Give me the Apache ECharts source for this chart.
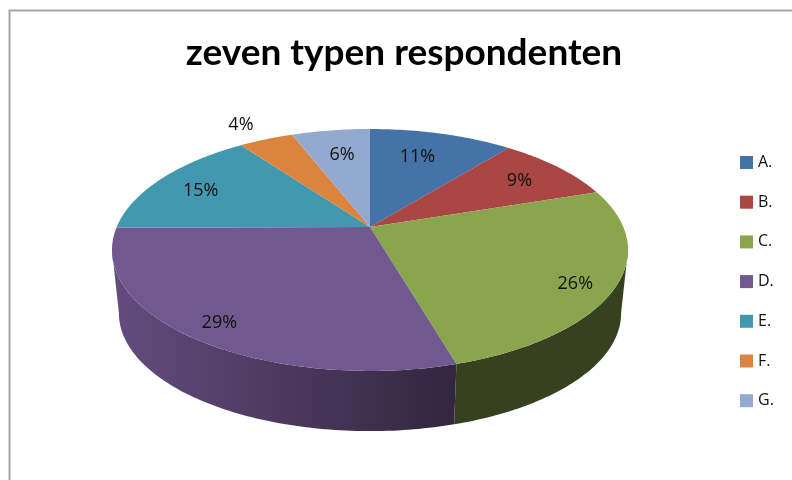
<!DOCTYPE html>
<html><head><meta charset="utf-8">
<style>html,body{margin:0;padding:0;background:#fff}#c{width:792px;height:480px}</style>
<script src="https://cdn.jsdelivr.net/npm/echarts@6/dist/echarts.min.js"></script>
</head><body><div id="c"></div>
<script>
const titleText = 'zeven typen respondenten';
const categories = ['A.', 'B.', 'C.', 'D.', 'E.', 'F.', 'G.'];
const shares = [10.8, 9.1, 25.6, 29.4, 15.1, 4.1, 5.9];
const colors = ['#4572A7', '#AA4643', '#89A54E', '#71588F', '#4198AF', '#DB843D', '#93A9CF'];
const sideStops = [
  ['#2f4f75', '#2f4f75'], ['#76302e', '#76302e'], ['#3c4722', '#37411f'], ['#634c7e', '#33263f'],
  ['#2d6a7a', '#2d6a7a'], ['#99592a', '#99592a'], ['#66768f', '#66768f']
];
const labelShift = [[-5, -2], [14, -3], [38, 16], [-32, 23], [-20, -1], [-53, -38], [1, -1]];

const total = shares.reduce((a, b) => a + b, 0);
const geom = { cx: 370, top: { y: 227, a: 253.3, b: 116.6 }, bottom: { y: 291, a: 246.5, b: 113.5 }, k: 0.19 };
const tangent = Math.acos(-geom.k) * 180 / Math.PI;
function project(face, r, deg) {
  const t = deg * Math.PI / 180, u = r * Math.sin(t), v = -r * Math.cos(t), d = 1 - geom.k * v;
  return [geom.cx + face.a * u / d, face.y + face.b * v / d];
}
function arc(face, from, to) {
  const pts = [], n = Math.max(2, Math.ceil((to - from) / 1));
  for (let i = 0; i <= n; i++) pts.push(project(face, 1, from + (to - from) * i / n));
  return pts;
}
const starts = [];
shares.reduce((s, v, i) => (starts[i] = s, s + v), 0);

function renderSlice(i) {
  return function (params, api) {
    const value = api.value(0);
    const from = starts[i] / total * 360, to = from + value / total * 360;
    const children = [];
    const sf = Math.max(from, tangent), st = Math.min(to, 360 - tangent);
    if (st > sf) {
      const pts = arc(geom.top, sf, st).concat(arc(geom.bottom, sf, st).reverse());
      children.push({
        type: 'polygon', z2: 1, shape: { points: pts },
        style: { fill: new echarts.graphic.LinearGradient(115, 0, 455, 0,
          [{ offset: 0, color: sideStops[i][0] }, { offset: 1, color: sideStops[i][1] }], true) }
      });
    }
    children.push({
      type: 'polygon', z2: 2,
      shape: { points: [project(geom.top, 0, 0)].concat(arc(geom.top, from, to)) },
      style: { fill: colors[i] }
    });
    const anchor = project(geom.top, 0.7, (from + to) / 2);
    children.push({
      type: 'text', z2: 3,
      style: {
        x: anchor[0] + labelShift[i][0], y: anchor[1] + labelShift[i][1],
        text: Math.round(value / total * 100) + '%',
        fill: '#111', font: '18px "Open Sans"', align: 'center', verticalAlign: 'middle'
      }
    });
    return { type: 'group', children };
  };
}

const chart = echarts.init(document.getElementById('c'), null, { renderer: 'canvas' });
chart.setOption({
  animation: false,
  backgroundColor: '#ffffff',
  title: {
    text: titleText, left: 399, top: 30, textAlign: 'center',
    textStyle: { fontFamily: 'Lato', fontWeight: 'bold', fontSize: 37, color: '#000' }
  },
  legend: {
    orient: 'vertical', left: 735, top: 149.5, itemWidth: 13, itemHeight: 13, itemGap: 23.7, itemStyle: { borderWidth: 0 },
    icon: 'rect', selectedMode: false,
    textStyle: { fontFamily: 'Open Sans', fontSize: 16, color: '#111', padding: [0, 0, 0, 0] },
    data: categories
  },
  graphic: [
    { type: 'polyline', shape: { points: [[9.5, 480], [9.5, 10.5], [792, 10.5]] },
      style: { stroke: '#a6a6a6', lineWidth: 2, fill: null } }
  ],
  series: categories.map((name, i) => ({
    type: 'custom', name, coordinateSystem: 'none',
    itemStyle: { color: colors[i] },
    renderItem: renderSlice(i),
    data: [[shares[i]]]
  }))
});
</script></body></html>
